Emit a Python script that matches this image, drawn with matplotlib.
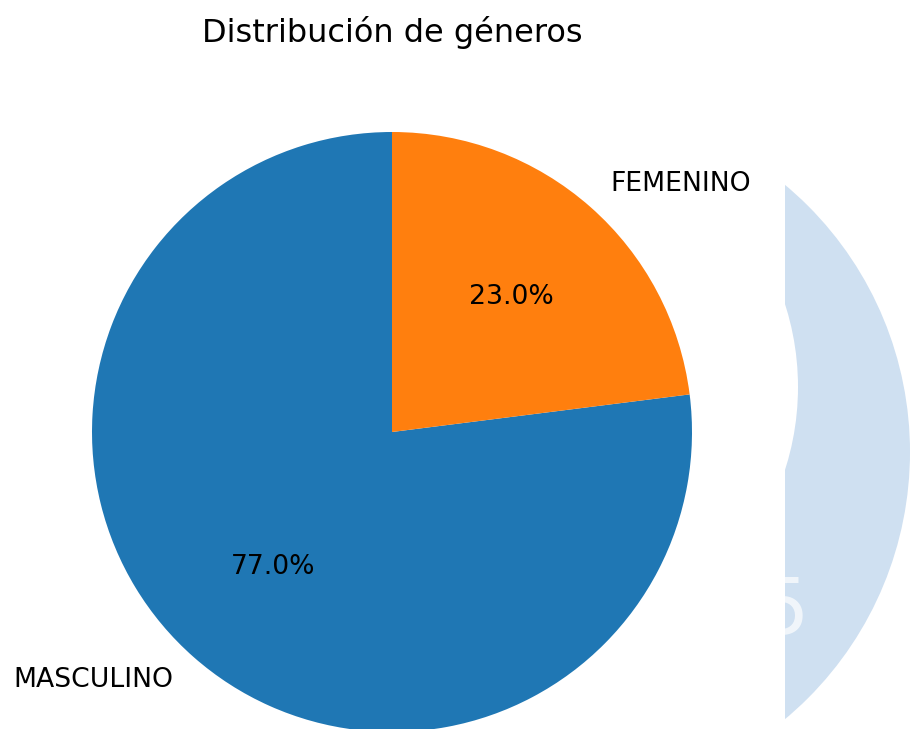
import matplotlib
matplotlib.use("Agg")
import matplotlib.pyplot as plt
from matplotlib.patches import Circle

generos = ["MASCULINO", "FEMENINO"]
porcentajes = [77.0, 23.0]
colores = ["#1f77b4", "#ff7f0e"]

W, H = 912, 729
fig = plt.figure(figsize=(W / 100, H / 100), dpi=100)

# pie axes: centre at (392, 432) px, radius 300 px (pie limits are +-1.25)
cx, cy, r = 392, 432, 300
side = 2.5 * r
ax = fig.add_axes([(cx - side / 2) / W, (H - cy - side / 2) / H, side / W, side / H])
ax.pie(porcentajes, labels=generos, colors=colores, autopct="%1.1f%%",
       startangle=90, textprops={"fontsize": 19.2})
ax.set_title("Distribución de géneros", fontsize=23, pad=11)

# light blue logo fragment peeking in on the right edge
ov = fig.add_axes([785 / W, 0, (W - 785) / W, 1])
ov.set_xlim(785, W)
ov.set_ylim(H, 0)
ov.axis("off")
ov.add_patch(Circle((562, 452), 348, color="#cfe0f1", lw=0))
ov.add_patch(Circle((527, 387), 271, color="white", lw=0))
ov.text(760, 612, "5", color="white", fontsize=56, ha="left", va="center",
        alpha=0.7, clip_on=True)

fig.savefig("out.png", dpi=100)
